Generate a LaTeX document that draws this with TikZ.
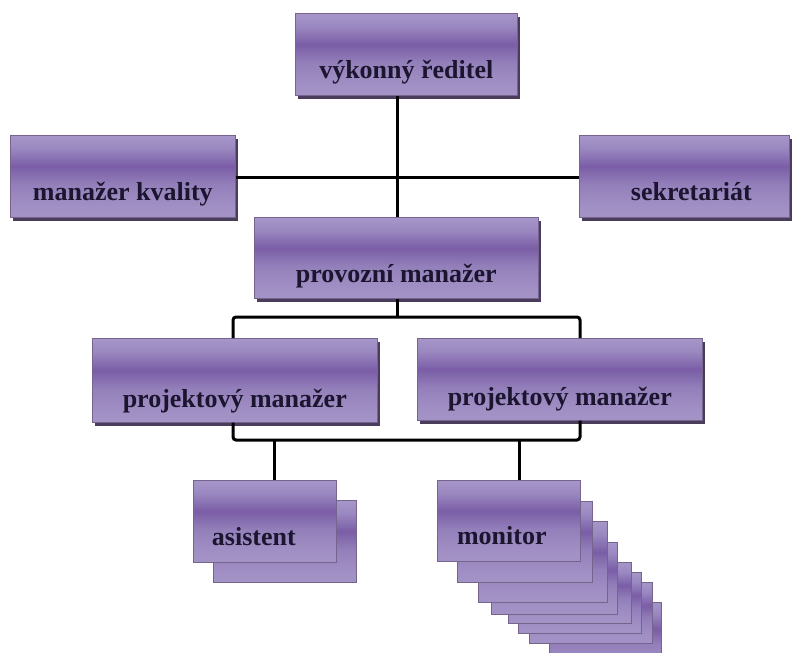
\documentclass[tikz,border=0pt]{standalone}
\usepackage{fontspec}
\setmainfont{Liberation Serif}
\usetikzlibrary{calc,shadows}

\definecolor{shbot}{HTML}{A898C9}
\definecolor{shlow}{HTML}{A291C5}
\definecolor{shmid}{HTML}{9380BA}
\definecolor{shdark}{HTML}{7A5DA6}
\definecolor{shup}{HTML}{9A88C0}
\definecolor{shlight}{HTML}{AFA2D0}
\definecolor{shtop}{HTML}{A697C8}
\definecolor{boxedge}{HTML}{75658C}
\definecolor{boxshadow}{HTML}{4A3D5C}
\definecolor{labelink}{HTML}{1C1530}

% vertical purple gradient of the boxes (listed bottom to top)
\pgfdeclareverticalshading{boxshade}{100bp}{%
  color(0bp)=(shbot); color(30bp)=(shlow); color(45bp)=(shmid);
  color(56bp)=(shdark); color(67bp)=(shup); color(82bp)=(shlight);
  color(100bp)=(shtop)}

\tikzset{
  orgbox/.style={rectangle, draw=boxedge, line width=0.6pt, shading=boxshade,
    inner sep=0pt, anchor=north west},
  shadowed/.style={general shadow={fill=boxshadow, shadow xshift=3pt, shadow yshift=-4pt}},
  lbl/.style={anchor=base, inner sep=0pt, text=labelink,
    font=\fontsize{26}{31}\selectfont\bfseries},
  link/.style={draw=black, line width=3pt, rounded corners=3pt},
}

\newcommand{\orgnode}[6][]{% [extra] name x y w h
  \node[orgbox, #1, minimum width=#5, minimum height=#6] (#2) at (#3,#4) {};}

\begin{document}
\begin{tikzpicture}[x=1pt,y=-1pt]
\useasboundingbox (0,0) rectangle (793,653);

% top level
\orgnode[shadowed]{ceo}{295}{13}{222}{82}
\orgnode[shadowed]{qual}{10}{135}{225}{82}
\orgnode[shadowed]{secr}{579}{135}{210}{82}
\orgnode[shadowed]{ops}{254}{217}{284}{81}
\orgnode[shadowed]{pmA}{92}{338}{285}{84}
\orgnode[shadowed]{pmB}{417}{338}{285}{82}

% assistant with one copy behind
\orgnode{asB}{213}{500}{143}{82}
\orgnode{asA}{193}{480}{143}{82}

% stack of monitors, back to front
\orgnode{mon7}{549}{602}{112}{70}
\orgnode{mon6}{529}{582}{123}{61}
\orgnode{mon5}{518}{572}{123}{61}
\orgnode{mon4}{508}{562}{123}{61}
\orgnode{mon3}{491}{542}{126}{72}
\orgnode{mon2}{478}{521}{129}{81}
\orgnode{mon1}{457}{501}{135}{81}
\orgnode{mon0}{437}{480}{143}{81}

% labels
\node[lbl] (ceo-t)  at ($(ceo.south)+(0,-17)$) {výkonný ředitel};
\node[lbl] (qual-t) at ($(qual.south)+(0,-17)$) {manažer kvality};
\node[lbl] (secr-t) at ($(secr.south)+(7,-17)$) {sekretariát};
\node[lbl] (ops-t)  at ($(ops.south)+(0,-16)$) {provozní manažer};
\node[lbl] (pmA-t)  at ($(pmA.south)+(0,-15)$) {projektový manažer};
\node[lbl] (pmB-t)  at ($(pmB.south)+(0,-15)$) {projektový manažer};
\node[lbl] (asA-t)  at ($(asA.south)+(-11,-17)$) {asistent};
\node[lbl] (mon0-t) at ($(mon0.south)+(-7,-17)$) {monitor};

% connectors
\coordinate (busA) at (397,317);
\coordinate (busB) at (397,440);
\draw[link] (ceo.south -| busA) -- (ops.north -| busA);
\draw[link] (qual.east |- 0,177) -- (secr.west |- 0,177);
\draw[link] (ops.south -| busA) -- (busA);
\draw[link] (pmA.north -| 233,0) -- (233,317) -- (580,317) -- (pmB.north -| 580,0);
\draw[link] (pmA.south -| 233,0) -- (233,440) -- (580,440) -- (pmB.south -| 580,0);
\draw[link] (274,440) -- (asA.north -| 274,0);
\draw[link] (519,440) -- (mon0.north -| 519,0);
\end{tikzpicture}
\end{document}
